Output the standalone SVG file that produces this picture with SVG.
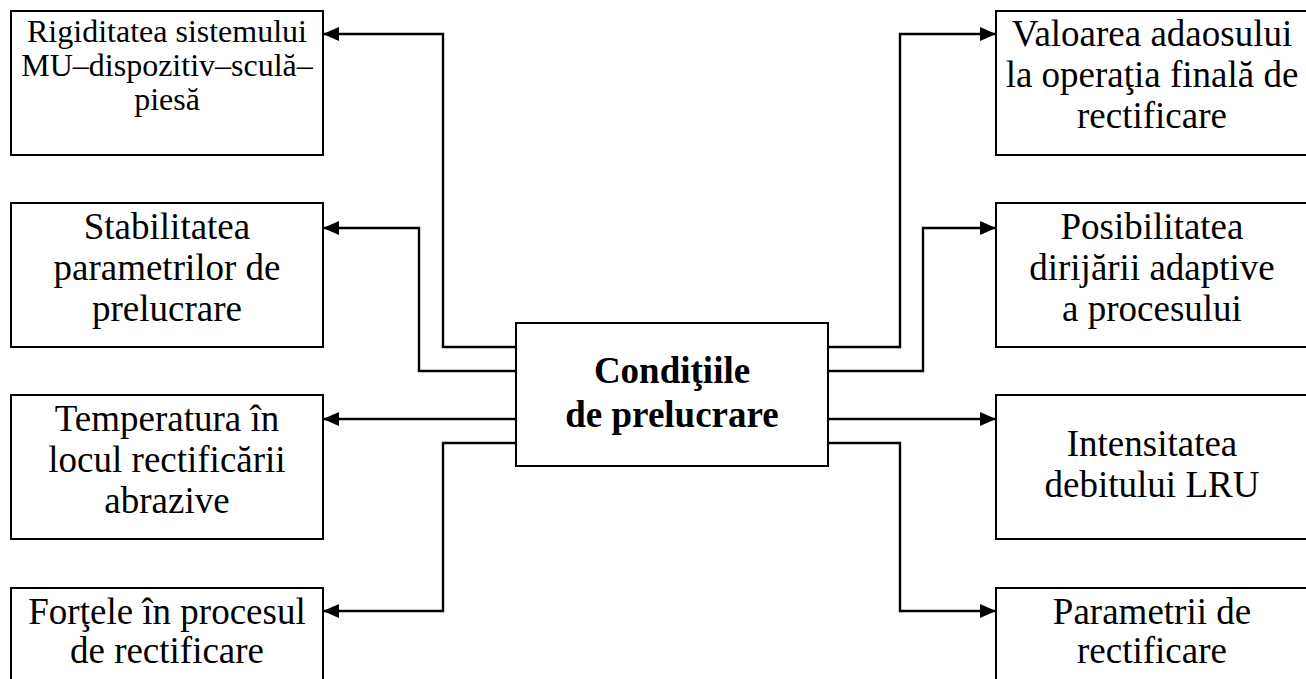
<svg xmlns="http://www.w3.org/2000/svg" width="1306" height="679" viewBox="0 0 1306 679">
<style>
.box{fill:#fff;stroke:#000;stroke-width:2}
.t{font-family:"Liberation Serif","Times New Roman",serif;font-size:37px;text-anchor:middle;fill:#000}
.s{font-size:32px}
.b{font-weight:bold}
.c{fill:none;stroke:#000;stroke-width:2.4}
</style>
<defs>
<marker id="ah" markerWidth="16" markerHeight="14" refX="15" refY="7" orient="auto" markerUnits="userSpaceOnUse">
<path d="M0,0 L16,7 L0,14 Z" fill="#000"/>
</marker>
</defs>
<rect width="1306" height="679" fill="#fff"/>
<g id="connectors">
<path class="c" d="M516,347 H443 V34 H324" marker-end="url(#ah)"/>
<path class="c" d="M516,371 H419 V228 H324" marker-end="url(#ah)"/>
<path class="c" d="M516,419 H324" marker-end="url(#ah)"/>
<path class="c" d="M516,443 H443 V611 H324" marker-end="url(#ah)"/>
<path class="c" d="M828,347 H900 V34 H995" marker-end="url(#ah)"/>
<path class="c" d="M828,371 H923 V228 H995" marker-end="url(#ah)"/>
<path class="c" d="M828,419 H995" marker-end="url(#ah)"/>
<path class="c" d="M828,443 H900 V611 H995" marker-end="url(#ah)"/>
</g>
<g id="center">
<rect class="box" x="516" y="323" width="312" height="143"/>
<text class="t b" x="672" y="383">Condiţiile</text>
<text class="t b" x="672" y="427">de prelucrare</text>
</g>
<g id="rigiditatea">
<rect class="box" x="11" y="11" width="312" height="144"/>
<text class="t s" x="167" y="42">Rigiditatea sistemului</text>
<text class="t s" x="167" y="76">MU–dispozitiv–sculă–</text>
<text class="t s" x="167" y="110">piesă</text>
</g>
<g id="stabilitatea">
<rect class="box" x="11" y="203" width="312" height="144"/>
<text class="t" x="167" y="239">Stabilitatea</text>
<text class="t" x="167" y="280">parametrilor de</text>
<text class="t" x="167" y="321">prelucrare</text>
</g>
<g id="temperatura">
<rect class="box" x="11" y="395" width="312" height="144"/>
<text class="t" x="167" y="431">Temperatura în</text>
<text class="t" x="167" y="472">locul rectificării</text>
<text class="t" x="167" y="513">abrazive</text>
</g>
<g id="fortele">
<rect class="box" x="11" y="588" width="312" height="110"/>
<text class="t" x="167" y="624">Forţele în procesul</text>
<text class="t" x="167" y="663">de rectificare</text>
</g>
<g id="valoarea">
<rect class="box" x="996" y="11" width="312" height="144"/>
<text class="t" x="1152" y="46">Valoarea adaosului</text>
<text class="t" x="1152" y="87">la operaţia finală de</text>
<text class="t" x="1152" y="128">rectificare</text>
</g>
<g id="posibilitatea">
<rect class="box" x="996" y="203" width="312" height="144"/>
<text class="t" x="1152" y="239">Posibilitatea</text>
<text class="t" x="1152" y="280">dirijării adaptive</text>
<text class="t" x="1152" y="321">a procesului</text>
</g>
<g id="intensitatea">
<rect class="box" x="996" y="395" width="312" height="144"/>
<text class="t" x="1152" y="456">Intensitatea</text>
<text class="t" x="1152" y="497">debitului LRU</text>
</g>
<g id="parametrii">
<rect class="box" x="996" y="588" width="312" height="110"/>
<text class="t" x="1152" y="624">Parametrii de</text>
<text class="t" x="1152" y="663">rectificare</text>
</g>
</svg>
